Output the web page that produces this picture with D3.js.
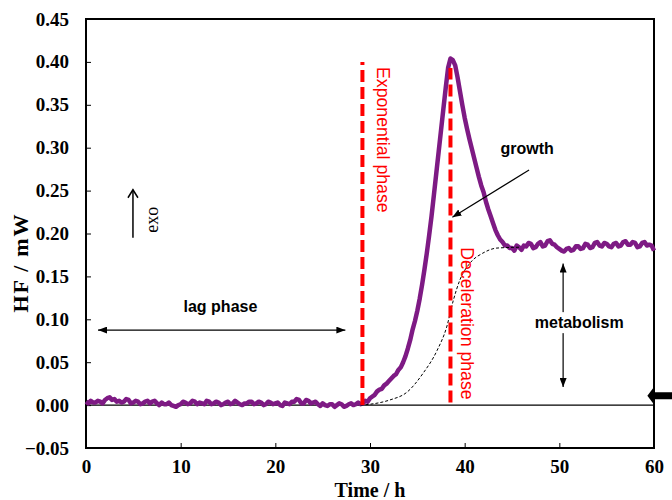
<!DOCTYPE html>
<html>
<head>
<meta charset="utf-8">
<script src="https://cdn.jsdelivr.net/npm/d3@7/dist/d3.min.js"></script>
<style>
  body { margin: 0; background: #fff; }
  svg { display: block; }
</style>
</head>
<body>
<svg id="chart" width="672" height="500"></svg>
<script>
// Heat flow (mW) recorded against time (h)
const timeH = [
  0, 0.25, 0.5, 0.75, 1, 1.25, 1.5, 1.75, 2, 2.25, 2.5, 2.75, 3, 3.25, 3.5, 3.75, 4, 4.25, 4.5, 4.75,
  5, 5.25, 5.5, 5.75, 6, 6.25, 6.5, 6.75, 7, 7.25, 7.5, 7.75, 8, 8.25, 8.5, 8.75, 9, 9.25, 9.5, 9.75,
  10, 10.25, 10.5, 10.75, 11, 11.25, 11.5, 11.75, 12, 12.25, 12.5, 12.75, 13, 13.25, 13.5, 13.75, 14, 14.25, 14.5, 14.75,
  15, 15.25, 15.5, 15.75, 16, 16.25, 16.5, 16.75, 17, 17.25, 17.5, 17.75, 18, 18.25, 18.5, 18.75, 19, 19.25, 19.5, 19.75,
  20, 20.25, 20.5, 20.75, 21, 21.25, 21.5, 21.75, 22, 22.25, 22.5, 22.75, 23, 23.25, 23.5, 23.75, 24, 24.25, 24.5, 24.75,
  25, 25.25, 25.5, 25.75, 26, 26.25, 26.5, 26.75, 27, 27.25, 27.5, 27.75, 28, 28.25, 28.5, 28.75, 29,
  29.25, 29.5, 29.75, 30, 30.25, 30.5, 30.75, 31, 31.25, 31.5, 31.75, 32, 32.25, 32.5, 32.75, 33, 33.25, 33.5, 33.75,
  34, 34.25, 34.5, 34.75, 35, 35.25, 35.5, 35.75, 36, 36.25, 36.5, 36.75, 37, 37.25, 37.5, 37.75, 38, 38.25, 38.5, 38.75,
  39, 39.25, 39.5, 39.75, 40, 40.25, 40.5, 40.75, 41, 41.25, 41.5, 41.75, 42, 42.25, 42.5, 42.75, 43, 43.25, 43.5, 43.75,
  44, 44.25, 44.5, 44.75,
  45, 45.25, 45.5, 45.75, 46, 46.25, 46.5, 46.75, 47, 47.25, 47.5, 47.75, 48, 48.25, 48.5, 48.75, 49, 49.25, 49.5, 49.75,
  50, 50.25, 50.5, 50.75, 51, 51.25, 51.5, 51.75, 52, 52.25, 52.5, 52.75, 53, 53.25, 53.5, 53.75, 54, 54.25, 54.5, 54.75,
  55, 55.25, 55.5, 55.75, 56, 56.25, 56.5, 56.75, 57, 57.25, 57.5, 57.75, 58, 58.25, 58.5, 58.75, 59, 59.25, 59.5, 59.75, 60
];
const heatFlow = [
  0.004, 0.002, 0.005, 0.003, 0.003, 0.005, 0.004, 0.002, 0.006, 0.008, 0.009, 0.006, 0.007, 0.004, 0.005, 0.003, 0.004, 0.007, 0.006, 0.002,
  0.003, 0.005, 0.004, 0.001, 0.002, 0.004, 0.005, 0.002, 0.004, 0.005, 0.002, 0.000, 0.003, 0.001, 0.001, 0.003, 0.000, -0.001, -0.002, 0.000,
  0.001, 0.004, 0.003, 0.001, 0.002, 0.005, 0.004, 0.001, 0.003, 0.002, 0.001, 0.005, 0.004, 0.001, 0.002, 0.004, 0.003, 0.000, 0.001, 0.003,
  0.004, 0.001, 0.002, 0.005, 0.003, 0.001, 0.000, 0.002, 0.002, 0.004, 0.004, 0.001, 0.002, 0.004, 0.003, 0.000, 0.001, 0.004, 0.003, 0.001,
  0.002, 0.003, 0.000, -0.001, 0.003, 0.002, 0.001, 0.004, 0.004, 0.007, 0.006, 0.002, 0.002, 0.006, 0.005, 0.002, 0.003, 0.004, 0.001, -0.001,
  0.002, 0.000, -0.001, 0.001, 0.001, -0.002, 0.000, 0.002, 0.001, -0.002, -0.001, 0.001, 0.002, 0.000, 0.001, 0.003, 0.001,
  0.002, 0.005, 0.004, 0.008, 0.010, 0.012, 0.016, 0.018, 0.019, 0.023, 0.025, 0.028, 0.031, 0.034, 0.036, 0.041, 0.044, 0.050, 0.057,
  0.066, 0.076, 0.088, 0.098, 0.110, 0.124, 0.140, 0.158, 0.177, 0.198, 0.220, 0.245, 0.270, 0.295, 0.320, 0.345, 0.370, 0.393, 0.404, 0.402,
  0.396, 0.382, 0.366, 0.350, 0.335, 0.322, 0.310, 0.299, 0.288, 0.277, 0.266, 0.256, 0.248, 0.237, 0.228, 0.220, 0.212, 0.204, 0.198, 0.193,
  0.190, 0.186, 0.186, 0.183,
  0.183, 0.180, 0.186, 0.184, 0.181, 0.186, 0.185, 0.189, 0.188, 0.183, 0.184, 0.188, 0.190, 0.185, 0.186, 0.191, 0.192, 0.188, 0.187, 0.184,
  0.182, 0.180, 0.179, 0.182, 0.183, 0.180, 0.181, 0.185, 0.185, 0.182, 0.183, 0.188, 0.187, 0.183, 0.184, 0.189, 0.190, 0.186, 0.185, 0.189,
  0.188, 0.185, 0.184, 0.188, 0.189, 0.185, 0.186, 0.190, 0.191, 0.187, 0.187, 0.190, 0.189, 0.184, 0.185, 0.189, 0.190, 0.186, 0.187, 0.186, 0.180
];

// Idealised growth contribution (dashed sigmoid)
const growthTime = [29.0, 30.0, 32.1, 33.9, 35.6, 37.1, 38.1, 38.8, 39.5, 40.6, 41.9, 43.4, 45.8];
const growthHF   = [0.000, 0.001, 0.006, 0.015, 0.037, 0.064, 0.091, 0.122, 0.146, 0.166, 0.177, 0.183, 0.184];

// Phase boundaries: time (h), lower and upper heat flow (mW)
const phaseTime = [29.2, 38.5];
const phaseLow  = [0.000, 0.003];
const phaseHigh = [0.400, 0.393];

const xTicks = [0, 10, 20, 30, 40, 50, 60];
const yTicks = [-0.05, 0.00, 0.05, 0.10, 0.15, 0.20, 0.25, 0.30, 0.35, 0.40, 0.45];

const svg = d3.select("#chart");
const plot = { left: 86, right: 654, top: 19, bottom: 448 };

const x = d3.scaleLinear().domain([0, 60]).range([plot.left, plot.right]);
const y = d3.scaleLinear().domain([-0.05, 0.45]).range([plot.bottom, plot.top]);

const serif = "'Liberation Serif', 'Times New Roman', serif";
const sans = "'Liberation Sans', Arial, sans-serif";

// Arrowhead markers
const defs = svg.append("defs");
function marker(id, len, half) {
  defs.append("marker")
    .attr("id", id)
    .attr("markerUnits", "userSpaceOnUse")
    .attr("viewBox", `0 ${-half} ${len} ${2 * half}`)
    .attr("refX", len).attr("refY", 0)
    .attr("markerWidth", len).attr("markerHeight", 2 * half)
    .attr("orient", "auto-start-reverse")
    .append("path")
    .attr("d", `M0,${-half}L${len},0L0,${half}Z`)
    .attr("fill", "#000");
}
marker("head", 9, 3.5);

// Axes with inward ticks
const xAxis = d3.axisBottom(x).tickValues(xTicks).tickSize(-5).tickPadding(12)
  .tickFormat(d3.format("d"));
const yAxis = d3.axisLeft(y).tickValues(yTicks).tickSize(-5).tickPadding(17)
  .tickFormat(d3.format(".2f"));

const gx = svg.append("g").attr("transform", `translate(0,${plot.bottom})`).call(xAxis);
const gy = svg.append("g").attr("transform", `translate(${plot.left},0)`).call(yAxis);
[gx, gy].forEach(g => {
  g.select(".domain").remove();
  g.selectAll(".tick line").attr("stroke", "#000").attr("stroke-width", 1);
  g.selectAll("text")
    .attr("fill", "#000")
    .style("font-family", serif)
    .style("font-weight", "bold")
    .style("font-size", "19px");
});
gx.selectAll("text").attr("dy", "0.71em");

// Zero line
svg.append("line")
  .attr("x1", x(0)).attr("x2", x(60))
  .attr("y1", y(0)).attr("y2", y(0))
  .attr("stroke", "#000").attr("stroke-width", 1.2);

// Plot frame
svg.append("rect")
  .attr("x", plot.left).attr("y", plot.top)
  .attr("width", plot.right - plot.left).attr("height", plot.bottom - plot.top)
  .attr("fill", "none").attr("stroke", "#000").attr("stroke-width", 2);

// Measured heat flow
const hfData = timeH.map((t, i) => [t, heatFlow[i]]);
svg.append("path")
  .datum(hfData)
  .attr("fill", "none")
  .attr("stroke", "#7e1a84")
  .attr("stroke-width", 4.5)
  .attr("stroke-linejoin", "round")
  .attr("d", d3.line().x(d => x(d[0])).y(d => y(d[1])));

// Growth sigmoid
const gData = growthTime.map((t, i) => [t, growthHF[i]]);
svg.append("path")
  .datum(gData)
  .attr("fill", "none")
  .attr("stroke", "#000")
  .attr("stroke-width", 1)
  .attr("stroke-dasharray", "3,2")
  .attr("d", d3.line().curve(d3.curveMonotoneX).x(d => x(d[0])).y(d => y(d[1])));

// Phase boundary lines
svg.selectAll(".phase")
  .data(phaseTime)
  .join("line")
  .attr("x1", d => x(d)).attr("x2", d => x(d))
  .attr("y1", (d, i) => y(phaseLow[i])).attr("y2", (d, i) => y(phaseHigh[i]))
  .attr("stroke", "#ff0000").attr("stroke-width", 4)
  .attr("stroke-dasharray", "12,5");

// Vertical red phase labels
function vLabel(text, tx, ty) {
  svg.append("text")
    .attr("transform", `translate(${x(tx)},${y(ty)}) rotate(90)`)
    .attr("dy", "0.35em")
    .attr("fill", "#ff0000")
    .style("font-family", sans)
    .style("font-size", "17.7px")
    .text(text);
}
vLabel("Exponential phase", 31.4, 0.394);
vLabel("Deceleration phase", 40.3, 0.184);

// Black annotations
function label(text, tx, ty, anchor) {
  return svg.append("text")
    .attr("x", x(tx)).attr("y", y(ty))
    .attr("text-anchor", anchor || "middle")
    .attr("fill", "#000")
    .style("font-family", sans)
    .style("font-weight", "bold")
    .style("font-size", "16px")
    .text(text);
}
function arrow(x1, y1, x2, y2, both) {
  const l = svg.append("line")
    .attr("x1", x(x1)).attr("y1", y(y1))
    .attr("x2", x(x2)).attr("y2", y(y2))
    .attr("stroke", "#000").attr("stroke-width", 1.2)
    .attr("marker-end", "url(#head)");
  if (both) l.attr("marker-start", "url(#head)");
}

// lag phase
arrow(1.27, 0.0874, 27.4, 0.0874, true);
label("lag phase", 14.2, 0.108);

// growth
label("growth", 46.6, 0.293);
arrow(46.8, 0.274, 38.7, 0.219, false);

// metabolism
arrow(50.4, 0.165, 50.4, 0.021, true);
const mt = label("metabolism", 52.1, 0.0897);
const bb = mt.node().getBBox();
svg.insert("rect", () => mt.node())
  .attr("x", bb.x - 2).attr("y", bb.y - 2)
  .attr("width", bb.width + 4).attr("height", bb.height + 4)
  .attr("fill", "#fff");

// exo marker
svg.append("line")
  .attr("x1", x(4.96)).attr("x2", x(4.96))
  .attr("y1", y(0.195)).attr("y2", y(0.251))
  .attr("stroke", "#000").attr("stroke-width", 1.5);
svg.append("path")
  .attr("d", `M${x(4.96) - 5},${y(0.251) + 8}L${x(4.96)},${y(0.251)}L${x(4.96) + 5},${y(0.251) + 8}`)
  .attr("fill", "none").attr("stroke", "#000").attr("stroke-width", 1.5);
svg.append("text")
  .attr("transform", `translate(${x(6.97)},${y(0.216)}) rotate(-90)`)
  .attr("text-anchor", "middle")
  .attr("dy", "0.35em")
  .attr("fill", "#000")
  .style("font-family", serif)
  .style("font-size", "18px")
  .text("exo");

// Baseline pointer on the right
const py = y(0.011);
svg.append("path")
  .attr("d", `M${x(59.3)},${py}L${x(60.1)},${py - 10}L${x(60.1)},${py - 3.5}L672,${py - 3.5}L672,${py + 3.5}L${x(60.1)},${py + 3.5}L${x(60.1)},${py + 10}Z`)
  .attr("fill", "#000");

// Axis titles
svg.append("text")
  .attr("x", (plot.left + plot.right) / 2).attr("y", 497)
  .attr("text-anchor", "middle")
  .style("font-family", serif).style("font-weight", "bold").style("font-size", "20px")
  .text("Time / h");
svg.append("text")
  .attr("transform", `translate(20,${(plot.top + plot.bottom) / 2 + 30}) rotate(-90)`)
  .attr("text-anchor", "middle")
  .attr("dy", "0.35em")
  .attr("textLength", 98)
  .attr("lengthAdjust", "spacing")
  .style("font-family", serif).style("font-weight", "bold").style("font-size", "22px")
  .text("HF / mW");
</script>
</body>
</html>
